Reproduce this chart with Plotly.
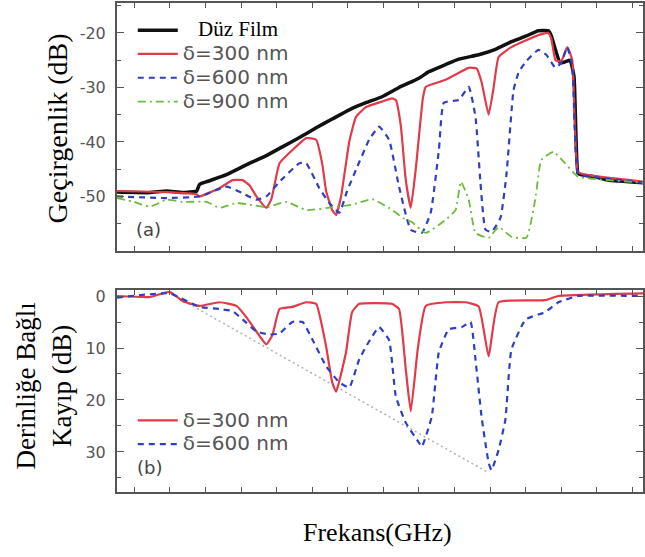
import plotly.graph_objects as go

# ---------------- data (x in frequency tick units, y in dB) ----------------
flat_x = [-0.49, 0.43, 0.91, 1.36, 1.75, 1.83, 2.03, 2.59, 3.24, 3.71, 4.16, 4.64, 5.11, 5.56,
          6.04, 6.51, 6.96, 7.44, 8.00, 8.28, 8.75, 9.12, 9.68, 10.15, 10.60, 11.00, 11.36,
          11.64, 11.72, 11.84, 11.97, 12.11, 12.25, 12.36, 12.47, 12.55, 12.95, 13.31, 14.30]
flat_y = [-49.2, -49.3, -49.0, -49.3, -49.0, -47.8, -47.3, -46.0, -43.9, -42.5, -40.9, -39.2,
          -37.4, -35.8, -34.1, -32.8, -31.7, -30.0, -28.3, -27.1, -25.8, -24.8, -24.0, -23.0,
          -21.6, -20.6, -19.6, -19.6, -20.5, -23.1, -25.5, -25.3, -25.0, -28.0, -45.7, -46.0,
          -46.4, -47.0, -47.5]

d300_x = [-0.49, 0.91, 1.75, 1.83, 2.39, 2.76, 3.04, 3.24, 3.43, 3.71, 3.85, 4.08, 4.44, 4.83,
          5.11, 5.28, 5.39, 5.56, 5.67, 5.81, 6.04, 6.23, 6.51, 6.96, 7.24, 7.35, 7.49, 7.63,
          7.77, 7.91, 8.11, 8.19, 8.75, 9.40, 9.62, 9.76, 9.96, 10.10, 10.24, 10.60, 11.36,
          11.64, 11.72, 11.84, 12.00, 12.17, 12.31, 12.47, 12.66, 14.30]
d300_y = [-49.0, -49.2, -49.6, -50.0, -48.5, -47.0, -47.0, -48.0, -50.0, -52.1, -50.5, -43.9,
          -41.5, -39.3, -39.6, -44.0, -49.0, -52.5, -53.4, -50.0, -40.0, -35.4, -33.6, -32.6,
          -32.0, -32.3, -37.0, -47.0, -52.1, -45.0, -32.0, -29.9, -28.6, -26.4, -26.5, -29.0,
          -35.0, -30.0, -24.4, -22.6, -20.4, -20.0, -21.0, -25.0, -25.2, -22.6, -25.0, -45.5,
          -46.0, -47.3]

d600_x = [-0.49, 0.91, 1.83, 2.59, 3.04, 3.43, 3.71, 4.08, 4.64, 4.83, 5.20, 5.48, 5.76, 5.98,
          6.23, 6.60, 6.88, 7.16, 7.44, 7.77, 8.08, 8.33, 8.56, 8.70, 9.12, 9.40, 9.59, 9.73,
          9.87, 10.04, 10.29, 10.46, 10.66, 10.80, 11.00, 11.36, 11.58, 11.84, 12.00, 12.17,
          12.31, 12.47, 12.66, 14.30]
d600_y = [-50.0, -50.3, -50.0, -48.2, -49.4, -50.6, -50.0, -47.3, -43.9, -43.9, -48.5, -51.2,
          -53.0, -49.0, -45.1, -39.6, -37.2, -39.6, -48.2, -56.1, -56.7, -53.0, -41.5, -32.8,
          -32.3, -29.9, -35.4, -47.5, -56.1, -56.5, -54.0, -46.0, -30.5, -27.3, -25.3, -23.1,
          -24.0, -26.4, -25.5, -22.6, -26.0, -45.8, -46.2, -47.5]

d900_x = [-0.49, -0.01, 0.43, 0.91, 1.36, 2.03, 2.39, 2.87, 3.24, 3.71, 4.27, 4.83, 5.56, 6.12,
          6.69, 7.16, 7.63, 7.80, 8.19, 8.75, 9.03, 9.18, 9.40, 9.59, 9.96, 10.24, 10.60, 11.02,
          11.27, 11.44, 11.78, 12.11, 12.47, 12.95, 14.30]
d900_y = [-50.3, -51.0, -51.9, -50.6, -51.0, -51.0, -52.1, -51.2, -51.5, -52.0, -51.0, -52.5,
          -52.0, -51.5, -50.5, -52.1, -54.3, -54.7, -56.7, -54.3, -52.5, -47.3, -50.6, -56.7,
          -57.6, -55.6, -57.4, -57.6, -50.6, -43.3, -41.8, -43.9, -46.4, -46.8, -47.5]

loss300_x = [-0.49, 0.43, 0.99, 1.36, 1.83, 2.39, 2.87, 3.15, 3.52, 3.71, 3.88, 4.08, 4.44, 4.83,
             5.11, 5.39, 5.56, 5.67, 5.95, 6.12, 6.32, 7.24, 7.44, 7.63, 7.77, 7.97, 8.19, 8.75,
             9.31, 9.68, 9.96, 10.24, 11.55, 11.92, 14.30]
loss300_y = [0.0, 0.2, -0.8, 1.0, 1.9, 1.2, 1.9, 4.1, 7.7, 9.3, 7.5, 2.5, 2.1, 1.2, 1.5, 9.7,
             16.6, 18.4, 10.8, 3.1, 1.5, 1.5, 2.5, 14.1, 22.2, 10.0, 1.9, 1.2, 1.2, 2.0, 11.6,
             1.2, 0.8, 0.0, -0.5]

loss600_x = [-0.49, 0.99, 1.83, 2.39, 2.76, 3.04, 3.43, 3.80, 4.08, 4.44, 4.73, 5.00, 5.39, 5.76,
             6.04, 6.32, 6.60, 6.88, 7.16, 7.35, 7.63, 8.00, 8.08, 8.36, 8.56, 8.84, 9.20, 9.45,
             9.59, 9.76, 9.96, 10.04, 10.24, 10.43, 10.60, 11.00, 11.55, 11.92, 12.47, 14.30]
loss600_y = [0.3, -0.5, 2.1, 2.5, 2.9, 4.5, 6.8, 7.4, 7.2, 5.0, 5.0, 8.3, 13.5, 16.6, 17.6, 12.2,
             8.7, 6.0, 8.5, 19.3, 24.4, 28.2, 29.0, 23.2, 10.8, 6.4, 6.0, 5.0, 12.2, 23.2, 32.1,
             33.5, 29.6, 23.8, 10.3, 4.5, 3.1, 1.2, 0.0, 0.0]

envelope_x = [1.27, 9.96]
envelope_y = [0.5, 34.0]

top_ticks = [-20, -30, -40, -50]
top_ticktext = ["-20", "-30", "-40", "-50"]
top_minor = [-15, -25, -35, -45, -55]
bot_ticks = [0, 10, 20, 30]
bot_ticktext = ["0", "10", "20", "30"]
bot_minor = [5, 15, 25, 35]
freq_ticks = list(range(0, 15))

names_top = ["Düz Film", "δ=300 nm", "δ=600 nm", "δ=900 nm"]
names_bot = ["δ=300 nm", "δ=600 nm"]

# ---------------- styles ----------------
RED = "#e23a48"
BLUE = "#2f3fbf"
GREEN = "#6dbb3c"
BLACK = "#111111"
FRAME = "#555555"
SERIF = "Liberation Serif"
SANS = "DejaVu Sans"


def serif_name(t):
    return f'<span style="font-family:{SERIF};font-size:21px;color:#000">{t}</span>'


def sans_name(t):
    return f'<span style="font-size:20px;color:#555">{t}</span>'


fig = go.Figure()
sm = dict(shape="spline", smoothing=0.4)

fig.add_trace(go.Scatter(x=flat_x, y=flat_y, mode="lines",
                         name="\u00a0\u00a0\u00a0" + serif_name(names_top[0]),
                         line=dict(color=BLACK, width=3.5, **sm), xaxis="x", yaxis="y", legend="legend"))
fig.add_trace(go.Scatter(x=d300_x, y=d300_y, mode="lines", name=sans_name(names_top[1]),
                         line=dict(color=RED, width=2.2, **sm), xaxis="x", yaxis="y", legend="legend"))
fig.add_trace(go.Scatter(x=d600_x, y=d600_y, mode="lines", name=sans_name(names_top[2]),
                         line=dict(color=BLUE, width=2.2, dash="6px,5px", **sm), xaxis="x", yaxis="y",
                         legend="legend"))
fig.add_trace(go.Scatter(x=d900_x, y=d900_y, mode="lines", name=sans_name(names_top[3]),
                         line=dict(color=GREEN, width=1.8, dash="8px,4px,2px,4px", **sm), xaxis="x",
                         yaxis="y", legend="legend"))

fig.add_trace(go.Scatter(x=envelope_x, y=envelope_y, mode="lines", showlegend=False,
                         line=dict(color="#b0b0b0", width=1.5, dash="2px,3px"), xaxis="x2", yaxis="y2"))
fig.add_trace(go.Scatter(x=loss300_x, y=loss300_y, mode="lines", name=sans_name(names_bot[0]),
                         line=dict(color=RED, width=2.2, **sm), xaxis="x2", yaxis="y2", legend="legend2"))
fig.add_trace(go.Scatter(x=loss600_x, y=loss600_y, mode="lines", name=sans_name(names_bot[1]),
                         line=dict(color=BLUE, width=2.2, dash="6px,5px", **sm), xaxis="x2", yaxis="y2",
                         legend="legend2"))

xcommon = dict(range=[-0.49, 14.30], showticklabels=False, ticks="inside", ticklen=5,
               tickcolor=FRAME, tickwidth=1.2, tickvals=freq_ticks, showline=True, linecolor=FRAME,
               linewidth=2, mirror="ticks", showgrid=False, zeroline=False)
ycommon = dict(ticks="inside", ticklen=7, tickcolor=FRAME, tickwidth=1.2, showline=True,
               linecolor=FRAME, linewidth=2, mirror="ticks", showgrid=False, zeroline=False,
               tickfont=dict(family=SANS, size=16, color="#555"), ticklabelstandoff=6)

fig.update_layout(
    width=645, height=557,
    margin=dict(l=117, r=0, t=3, b=65),
    plot_bgcolor="white", paper_bgcolor="white",
    xaxis=dict(domain=[0, 1], anchor="y", **xcommon),
    xaxis2=dict(domain=[0, 1], anchor="y2", **xcommon),
    yaxis=dict(domain=[0.493, 1], anchor="x", range=[-60, -14.5], tickvals=top_ticks,
               ticktext=top_ticktext,
               minor=dict(tickvals=top_minor, ticks="inside", ticklen=4, tickcolor=FRAME),
               **ycommon),
    yaxis2=dict(domain=[0, 0.413], anchor="x2", range=[37.7, -1.15], tickvals=bot_ticks,
                ticktext=bot_ticktext,
                minor=dict(tickvals=bot_minor, ticks="inside", ticklen=4, tickcolor=FRAME),
                **ycommon),
    legend=dict(x=0.03, y=0.979, xanchor="left", yanchor="top", bgcolor="rgba(0,0,0,0)",
                font=dict(size=16, family=SANS, color="#555"), itemwidth=40, traceorder="normal"),
    legend2=dict(x=0.03, y=0.181, xanchor="left", yanchor="top", bgcolor="rgba(0,0,0,0)",
                 font=dict(size=16, family=SANS, color="#555"), itemwidth=40, traceorder="normal"),
    showlegend=True,
)

fig.add_annotation(text="(a)", xref="x domain", yref="y domain", x=0.059, y=0.085,
                   xanchor="center", yanchor="middle",
                   showarrow=False, font=dict(family=SANS, size=18, color="#444"))
fig.add_annotation(text="(b)", xref="x2 domain", yref="y2 domain", x=0.061, y=0.119,
                   xanchor="center", yanchor="middle",
                   showarrow=False, font=dict(family=SANS, size=18, color="#444"))

fig.add_annotation(text="Geçirgenlik (dB)", xref="paper", yref="paper", x=-0.1136, y=0.744,
                   textangle=-90, showarrow=False, xanchor="center", yanchor="middle",
                   font=dict(family=SERIF, size=28, color="#000"))
fig.add_annotation(text="Derinliğe Bağlı<br>Kayıp (dB)", xref="paper", yref="paper", x=-0.138,
                   y=0.2168, textangle=-90, showarrow=False, xanchor="center", yanchor="middle",
                   font=dict(family=SERIF, size=27, color="#000"))
fig.add_annotation(text="Frekans(GHz)", xref="paper", yref="paper", x=0.496, y=-0.0838,
                   showarrow=False, xanchor="center", yanchor="middle",
                   font=dict(family=SERIF, size=26, color="#000"))

fig.write_html("out.html", config={"displayModeBar": False},
               post_script="document.body.style.margin='0';")
